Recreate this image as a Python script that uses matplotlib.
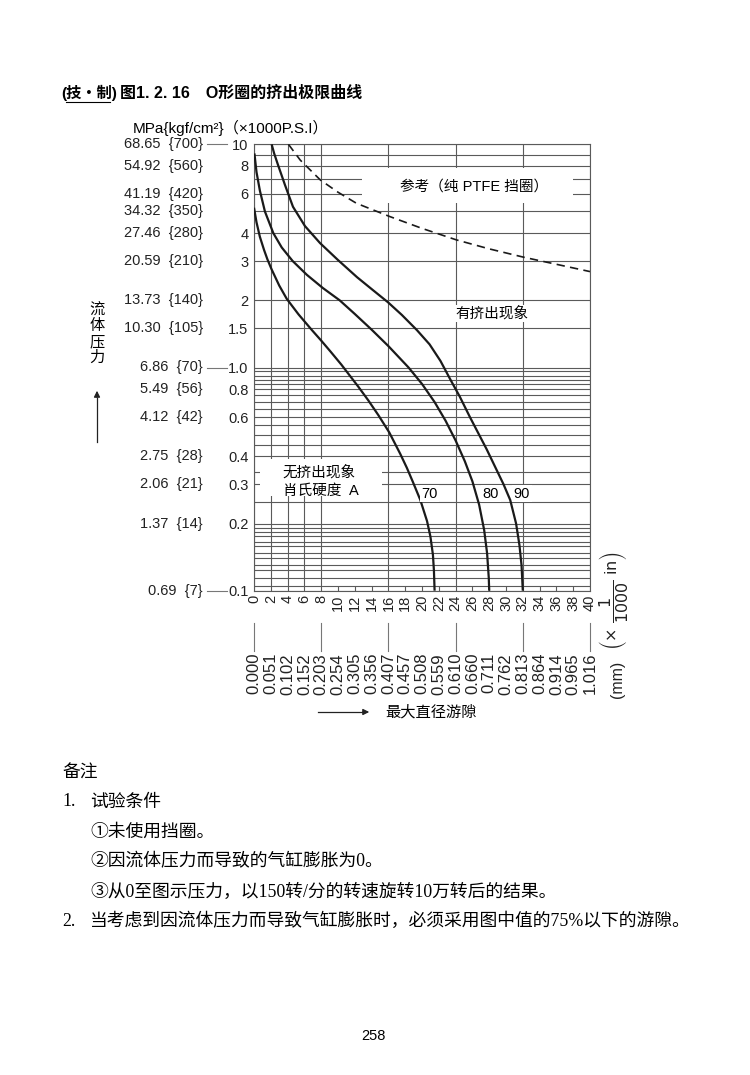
import matplotlib
matplotlib.use("Agg")
import matplotlib.pyplot as plt
from matplotlib.patches import Rectangle
from matplotlib.lines import Line2D
import matplotlib.transforms as mtransforms

SANS = ['Liberation Sans', 'Noto Sans CJK SC']
SERIF = ['Liberation Serif', 'Noto Sans CJK SC']
plt.rcParams['font.family'] = SANS

# ---------------- data ----------------
ksi_ticks = [10, 8, 6, 4, 3, 2, 1.5, 1.0, 0.8, 0.6, 0.4, 0.3, 0.2, 0.1]
ksi_labels = ['10', '8', '6', '4', '3', '2', '1.5', '1.0', '0.8', '0.6', '0.4', '0.3', '0.2', '0.1']
mpa_ticks = [10, 8, 6, 5, 4, 3, 2, 1.5, 1.0, 0.8, 0.6, 0.4, 0.3, 0.2, 0.1]
mpa_labels = ['68.65  {700}', '54.92  {560}', '41.19  {420}', '34.32  {350}', '27.46  {280}',
              '20.59  {210}', '13.73  {140}', '10.30  {105}', '6.86  {70}', '5.49  {56}',
              '4.12  {42}', '2.75  {28}', '2.06  {21}', '1.37  {14}', '0.69  {7}']
x_ticks = list(range(0, 41, 2))
mm_labels = ['0.000', '0.051', '0.102', '0.152', '0.203', '0.254', '0.305', '0.356', '0.407',
             '0.457', '0.508', '0.559', '0.610', '0.660', '0.711', '0.762', '0.813', '0.864',
             '0.914', '0.965', '1.016']
mm_marks = [0, 8, 16, 24, 32, 40]

grid_h = [10, 9, 8, 7, 6, 5, 4, 3, 2, 1.5, 1.0, 0.96, 0.92, 0.88, 0.84, 0.8, 0.75, 0.7, 0.65,
          0.6, 0.55, 0.5, 0.45, 0.4, 0.34, 0.3, 0.25, 0.2, 0.19, 0.184, 0.175, 0.166, 0.158,
          0.148, 0.14, 0.131, 0.124, 0.114, 0.105, 0.1]
grid_v = [0, 2, 4, 6, 8, 16, 24, 32, 40]
grid_v_short = [10, 12, 14, 18, 20, 22, 26, 28, 30, 34, 36, 38]

# Shore A 70
c70_x = [0, 0.3, 0.7, 1.2, 1.6, 2.1, 3.0, 3.9, 5.3, 6.9, 8.0, 9.1, 10.4, 11.4, 12.4, 13.6,
         14.8, 16.1, 17.4, 18.2, 18.9, 19.8, 20.6, 21.0, 21.3, 21.42, 21.5]
c70_y = [5.20, 4.47, 3.85, 3.36, 3.05, 2.75, 2.33, 2.03, 1.73, 1.47, 1.32, 1.18, 1.03, 0.92,
         0.822, 0.713, 0.612, 0.512, 0.411, 0.355, 0.308, 0.255, 0.205, 0.175, 0.145, 0.123, 0.1]
# Shore A 80
c80_x = [0.05, 0.3, 0.7, 1.3, 2.3, 3.3, 4.6, 6.3, 8.2, 10.2, 12.0, 14.0, 16.0, 18.4, 20.0,
         21.5, 22.8, 24.0, 25.1, 26.0, 26.8, 27.4, 27.75, 27.95, 28.0]
c80_y = [9.1, 7.5, 6.2, 5.0, 4.0, 3.45, 3.0, 2.6, 2.27, 2.0, 1.737, 1.478, 1.247, 1.0, 0.844,
         0.70, 0.578, 0.471, 0.380, 0.309, 0.243, 0.187, 0.147, 0.114, 0.1]
# Shore A 90
c90_x = [2.1, 2.4, 2.86, 3.69, 4.64, 6.07, 7.86, 10.0, 12.26, 14.17, 15.95, 17.6, 19.4, 20.9,
         22.2, 23.4, 24.5, 25.7, 27.7, 29.7, 30.5, 31.2, 31.6, 31.85, 32.0]
c90_y = [10, 9.1, 8.08, 6.57, 5.25, 4.3, 3.61, 3.03, 2.54, 2.22, 1.96, 1.72, 1.47, 1.27,
         1.07, 0.88, 0.74, 0.6, 0.43, 0.30, 0.255, 0.2, 0.16, 0.13, 0.1]
# reference: pure PTFE backup ring
ptfe_x = [4.1, 5.5, 7.9, 10.0, 12.2, 16.2, 20.0, 24.1, 28.0, 32.1, 36.0, 40.0]
ptfe_y = [10, 8.5, 6.92, 6.1, 5.44, 4.74, 4.2, 3.73, 3.4, 3.12, 2.9, 2.69]

# ---------------- figure ----------------
W, H = 750, 1075
fig = plt.figure(figsize=(W / 100, H / 100), dpi=100)

def fx(px):
    return px / W

def fy(py):
    return 1 - py / H

ax_l, ax_r, ax_t, ax_b = 254, 590, 144.3, 590.7
ax = fig.add_axes([fx(ax_l), fy(ax_b), (ax_r - ax_l) / W, (ax_b - ax_t) / H])
ax.set_yscale('log')
ax.set_xlim(0, 40)
ax.set_ylim(0.1, 10)

gcol = '#5a5a5a'
glw = 0.8
for v in grid_h:
    ax.axhline(v, color=gcol, lw=glw, zorder=1)
for v in grid_v:
    ax.axvline(v, color=gcol, lw=glw, zorder=1)
ax.vlines(grid_v_short, grid_h[-1], grid_h[-2], color=gcol, lw=glw, zorder=1)

for s in ax.spines.values():
    s.set_color(gcol)
    s.set_linewidth(glw)

# white label boxes that interrupt the grid
def ax_box(px0, py0, px1, py1):
    x0 = (px0 - ax_l) / (ax_r - ax_l)
    x1 = (px1 - ax_l) / (ax_r - ax_l)
    y0 = (ax_b - py1) / (ax_b - ax_t)
    y1 = (ax_b - py0) / (ax_b - ax_t)
    ax.add_patch(Rectangle((x0, y0), x1 - x0, y1 - y0, transform=ax.transAxes,
                           facecolor='white', edgecolor='none', zorder=2))

ax_box(362, 168, 573, 203)
ax_box(260, 459, 382, 496)

ccol = '#1a1a1a'
for xs, ys in [(c70_x, c70_y), (c80_x, c80_y), (c90_x, c90_y)]:
    ax.plot(xs, ys, color=ccol, lw=1.6, zorder=4, solid_capstyle='butt', solid_joinstyle='round')
ax.plot(ptfe_x, ptfe_y, color=ccol, lw=1.2, dashes=(5, 3.2), zorder=4)

# in-chart labels
ax.text(26.2, 6.45, '参考（纯 PTFE 挡圈）', fontsize=10.5, ha='center', va='center', zorder=5)
ax.text(28.3, 1.75, '有挤出现象', fontsize=10.5, ha='center', va='center', zorder=5,
        bbox=dict(facecolor='white', edgecolor='none', pad=1))
ax.text(3.4, 0.34, '无挤出现象', fontsize=10.5, ha='left', va='center', zorder=5)
ax.text(3.4, 0.28, '肖氏硬度  A', fontsize=10.5, ha='left', va='center', zorder=5)
for lab, xv in [('70', 20.9), ('80', 28.2), ('90', 31.9)]:
    ax.text(xv, 0.272, lab, fontsize=10.5, ha='center', va='center', zorder=5,
            bbox=dict(facecolor='white', edgecolor='none', pad=1))

# ticks
ax.set_yticks(ksi_ticks, ksi_labels)
ax.yaxis.set_minor_locator(matplotlib.ticker.NullLocator())
ax.set_xticks(x_ticks, [str(v) for v in x_ticks], rotation=90)
ax.tick_params(axis='both', length=0, labelsize=10.5, colors='#222222')
ax.tick_params(axis='y', pad=4)
ax.tick_params(axis='x', pad=3)

# second y label column (MPa {kgf/cm2})
tr_y = mtransforms.blended_transform_factory(fig.transFigure, ax.transData)
for v, lab in zip(mpa_ticks, mpa_labels):
    fig.text(fx(203), v, lab, transform=tr_y, ha='right', va='center', fontsize=10.5, color='#222222')
for v in [10, 1.0, 0.1]:
    fig.add_artist(Line2D([fx(207), fx(227)], [v, v], transform=tr_y, color='#777777', lw=0.8))

# mm labels
tr_x = mtransforms.blended_transform_factory(ax.transData, fig.transFigure)
for v, lab in zip(x_ticks, mm_labels):
    fig.text(v, fy(653), lab, transform=tr_x, rotation=90, ha='center', va='top',
             fontsize=12, color='#222222')
for v in mm_marks:
    fig.add_artist(Line2D([v, v], [fy(623), fy(651)], transform=tr_x, color='#777777', lw=0.8))

fig.text(fx(613), fy(600), r'$\left(\times\ \dfrac{1}{1000}\ \mathrm{in}\right)$', rotation=90,
         ha='center', va='center', fontsize=11.5, color='#222222')
fig.text(fx(618), fy(679), '(mm)', rotation=90, ha='center', va='center', fontsize=11.5, color='#222222')

# bottom axis caption with arrow
fig.add_artist(Line2D([fx(318), fx(362)], [fy(712), fy(712)], color='#222222', lw=0.9))
ax.annotate('', xy=(fx(372), fy(712)), xytext=(fx(360), fy(712)), xycoords='figure fraction',
            arrowprops=dict(arrowstyle='-|>', color='#222222', lw=0.9, mutation_scale=9))
fig.text(fx(385), fy(712), '最大直径游隙', ha='left', va='center', fontsize=11)

# left axis caption
for i, ch in enumerate('流体压力'):
    fig.text(fx(97), fy(310 + i * 16), ch, ha='center', va='center', fontsize=11)
fig.add_artist(Line2D([fx(97), fx(97)], [fy(442), fy(398)], color='#222222', lw=0.9))
ax.annotate('', xy=(fx(97), fy(388)), xytext=(fx(97), fy(400)), xycoords='figure fraction',
            arrowprops=dict(arrowstyle='-|>', color='#222222', lw=0.9, mutation_scale=9))

# unit header
fig.text(fx(133), fy(128), 'MPa{kgf/cm²}（×1000P.S.I）', ha='left', va='center', fontsize=11)

# title
fig.text(fx(61), fy(93), '(技・制)', ha='left', va='center', fontsize=11, fontweight='bold')
fig.add_artist(Line2D([fx(66), fx(110)], [fy(101.5), fy(101.5)], color='black', lw=0.8))
fig.text(fx(120), fy(93), '图1. 2. 16　O形圈的挤出极限曲线', ha='left', va='center', fontsize=11.5,
         fontweight='bold')

# notes
notes = [
    (62, 773, '备注'),
    (62, 802, '1.'),
    (90, 802, '试验条件'),
    (90, 832, '①未使用挡圈。'),
    (90, 862, '②因流体压力而导致的气缸膨胀为0。'),
    (90, 892, '③从0至图示压力，以150转/分的转速旋转10万转后的结果。'),
    (62, 921, '2.'),
    (90, 921, '当考虑到因流体压力而导致气缸膨胀时，必须采用图中值的75%以下的游隙。'),
]
for px, py, t in notes:
    fig.text(fx(px), fy(py), t, ha='left', va='center', fontsize=12.8, family=SERIF)

fig.text(fx(373), fy(1036), '258', ha='center', va='center', fontsize=10.5)

fig.savefig('out.png', dpi=100)
